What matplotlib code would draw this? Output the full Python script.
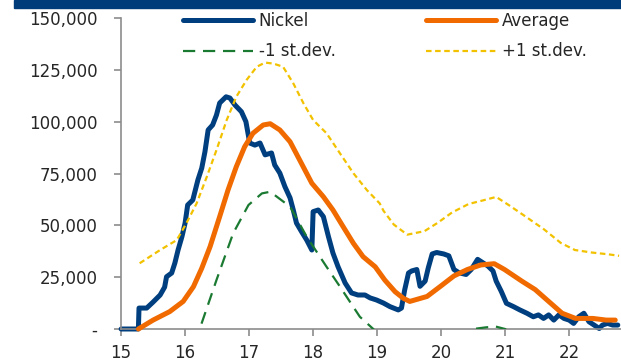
import matplotlib.pyplot as plt
from matplotlib.patches import Rectangle

# Nickel stocks (tonnes) and seasonal envelope, x = year (15 = 2015)
nickel_x = [15.0, 15.27, 15.28, 15.40, 15.50, 15.61, 15.68, 15.71, 15.79, 15.84, 15.89,
            15.95, 16.00, 16.04, 16.12, 16.20, 16.26, 16.31, 16.36, 16.43, 16.49, 16.54,
            16.64, 16.70, 16.78, 16.88, 16.95, 17.01, 17.09, 17.17, 17.25, 17.35, 17.40,
            17.48, 17.56, 17.64, 17.69, 17.74, 17.82, 17.90, 17.98, 18.00, 18.08, 18.16,
            18.24, 18.31, 18.39, 18.50, 18.60, 18.70, 18.81, 18.89, 18.99, 19.10, 19.20,
            19.33, 19.38, 19.43, 19.49, 19.54, 19.62, 19.67, 19.75, 19.80, 19.86, 19.93,
            20.04, 20.12, 20.20, 20.28, 20.39, 20.47, 20.57, 20.65, 20.73, 20.81, 20.86,
            20.94, 21.02, 21.13, 21.23, 21.34, 21.44, 21.52, 21.60, 21.68, 21.76, 21.84,
            21.92, 22.00, 22.07, 22.15, 22.23, 22.31, 22.39, 22.47, 22.52, 22.60, 22.68,
            22.76]
nickel = [0, 0, 10100, 10100, 13000, 16400, 20200, 25200, 27000, 31800, 38100,
          44500, 51100, 59800, 62200, 71900, 77600, 85500, 96000, 98400, 103200, 109000,
          112000, 111400, 108000, 104800, 100000, 89700, 88700, 89700, 84000, 84900, 79100,
          75200, 68600, 63200, 57400, 51100, 46900, 42900, 38100, 56600, 57400, 54200,
          44500, 36600, 30000, 22200, 17400, 16400, 16400, 15000, 14000, 12500, 10800,
          9200, 10100, 18800, 27000, 28000, 28700, 20600, 23100, 29600, 36200, 36900,
          36200, 35300, 28700, 27100, 26300, 28700, 33600, 32000, 30400, 28000, 23100,
          18100, 12400, 10800, 9200, 7600, 5900, 6800, 5100, 6800, 4300, 6800,
          5100, 4300, 2700, 5900, 7600, 3500, 1900, 250, 1900, 2700, 1900,
          1900]

avg_x = [15.27, 15.50, 15.76, 15.97, 16.13, 16.26, 16.39, 16.54, 16.67, 16.80, 16.93,
         17.06, 17.22, 17.33, 17.48, 17.64, 17.79, 17.98, 18.16, 18.31, 18.47, 18.63,
         18.78, 18.97, 19.12, 19.28, 19.41, 19.51, 19.78, 19.99, 20.20, 20.41, 20.62,
         20.83, 20.99, 21.26, 21.47, 21.68, 21.89, 22.10, 22.37, 22.58, 22.72]
average = [0, 4300, 8400, 13300, 20400, 29300, 39700, 54200, 67000, 78300, 87900,
           94400, 98400, 99000, 96000, 90300, 81500, 70300, 63800, 57400, 49300, 41300,
           34900, 30000, 23600, 18000, 14800, 13300, 15700, 20600, 25600, 28700, 30900,
           31500, 28700, 23100, 19000, 13300, 7600, 5100, 5100, 4300, 4300]

plus_x = [15.29, 15.61, 15.87, 16.02, 16.18, 16.34, 16.49, 16.65, 16.80, 16.96, 17.12,
          17.25, 17.38, 17.53, 17.69, 17.85, 18.00, 18.21, 18.42, 18.63, 18.84, 19.04,
          19.10, 19.26, 19.47, 19.74, 19.95, 20.17, 20.43, 20.65, 20.86, 21.07, 21.34,
          21.61, 21.87, 22.09, 22.35, 22.62, 22.78]
plus_sd = [31700, 38100, 42900, 51000, 60600, 73500, 86300, 100800, 112000, 120100, 126500,
           128500, 128000, 126500, 118500, 108800, 100800, 94400, 84700, 75100, 67000, 60600,
           57000, 50400, 45500, 47200, 51300, 56200, 60300, 62000, 63700, 59500, 53800,
           48000, 41500, 38100, 36900, 36000, 35300]

minus_x = [15.29, 15.70, 16.00, 16.23, 16.26, 16.49, 16.75, 16.99, 17.20, 17.33, 17.64,
           17.90, 18.21, 18.42, 18.73, 18.94, 19.20, 19.50, 19.80, 20.20, 20.50, 20.70,
           20.85, 21.00, 21.30, 21.60, 21.90, 22.20, 22.50, 22.78]
minus_sd = [-32000, -30000, -18000, 0, 2900, 23600, 46100, 59800, 65400, 66200, 59000,
            44500, 30000, 20400, 5900, 0, -12000, -19000, -15000, -5000, 0, 800,
            1200, 0, -8000, -16000, -24000, -28000, -30000, -30000]

x_ticks = [15, 16, 17, 18, 19, 20, 21, 22]
y_ticks = [0, 25000, 50000, 75000, 100000, 125000, 150000]
y_labels = ["-", "25,000", "50,000", "75,000", "100,000", "125,000", "150,000"]

blue = "#003f7f"
orange = "#f06a00"
green = "#1b7a32"
yellow = "#f2c200"
grey = "#8c8c8c"
txt = "#262626"

plt.rcParams['font.family'] = ['DejaVu Sans']
plt.rcParams['font.size'] = 12

fig = plt.figure(figsize=(6.21, 3.6), dpi=100)
ax = fig.add_axes([0.195, 0.0861, 0.805, 0.8639])

# banner strip along the top edge
fig.patches.append(Rectangle((0.022, 0.977), 0.978, 0.023, transform=fig.transFigure,
                             color="#003b7a", zorder=0))

ax.plot(nickel_x, nickel, color=blue, lw=3.6, label="Nickel", clip_on=False,
        solid_capstyle="round", solid_joinstyle="round", zorder=2)
ax.plot(avg_x, average, color=orange, lw=3.6, label="Average", clip_on=False,
        solid_capstyle="round", zorder=3)
ax.plot(minus_x, minus_sd, color=green, lw=1.6, dashes=(5.5, 3.5), label="-1 st.dev.", zorder=4)
ax.plot(plus_x, plus_sd, color=yellow, lw=1.6, dashes=(2.5, 1.6), label="+1 st.dev.", zorder=4)

ax.set_xlim(15, 22.81)
ax.set_ylim(0, 150000)
ax.set_xticks(x_ticks)
ax.set_yticks(y_ticks)
ax.set_yticklabels(y_labels)

for s in ["top", "right"]:
    ax.spines[s].set_visible(False)
for s in ["left", "bottom"]:
    ax.spines[s].set_color(grey)
    ax.spines[s].set_linewidth(1.2)
ax.tick_params(axis="both", direction="out", length=5, width=1.2, color=grey,
               labelcolor=txt, labelsize=12)
ax.tick_params(axis="y", pad=12)
ax.tick_params(axis="x", pad=6)

handles, labels = ax.get_legend_handles_labels()
order = [0, 2, 1, 3]
leg = fig.legend([handles[i] for i in order], [labels[i] for i in order],
                 loc="upper left", bbox_to_anchor=(183 / 621, 1 - 12 / 360), ncol=2,
                 frameon=False, fontsize=12, handlelength=4.2, handletextpad=0.35,
                 columnspacing=5.4, labelspacing=0.75, borderpad=0, borderaxespad=0)
for t in leg.get_texts():
    t.set_color(txt)

fig.savefig("out.png", dpi=100)
